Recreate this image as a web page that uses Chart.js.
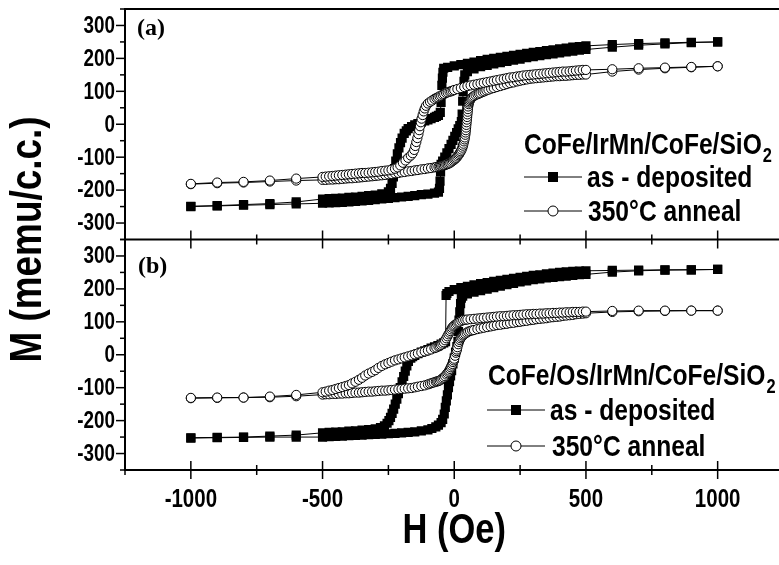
<!DOCTYPE html>
<html>
<head>
<meta charset="utf-8">
<script src="https://cdn.jsdelivr.net/npm/chart.js@4.4.0/dist/chart.umd.min.js"></script>
<style>
  html, body { margin: 0; padding: 0; overflow: hidden; background: #fff; }
  #wrap { position: relative; width: 790px; height: 565px; }
</style>
</head>
<body>
<div id="wrap"><canvas id="loopChart" width="790" height="565"></canvas></div>
<script>
// tick positions
const xMajor = [-1000, -500, 0, 500, 1000];
const xMinor = [-1250, -750, -250, 250, 750, 1250];
const yMajor = [-300, -200, -100, 0, 100, 200, 300];
const yMinor = [-350, -250, -150, -50, 50, 150, 250, 350];

// (a) CoFe/IrMn/CoFe/SiO2, as-deposited, [H (Oe), M (memu/c.c.)]
const aDepDown = [[-1000,-249],[-900,-247],[-800,-244],[-700,-241],[-600,-236],
  [-500,-227],[-475,-226],[-450,-225],[-425,-224],[-400,-222],[-375,-221],[-350,-219],[-325,-217],
  [-300,-215],[-275,-211],[-250,-205],[-242,-195],[-236,-180],[-231,-160],[-227,-135],[-222,-112],
  [-216,-90],[-210,-72],[-204,-56],[-198,-42],[-190,-28],[-182,-20],[-175,-13],[-162,-7],[-150,-2],
  [-138,2],[-125,6],[-112,10],[-100,13],[-88,17],[-75,21],[-68,24],[-60,27],[-53,36],[-50,66],
  [-47,118],[-45,140],[-43,158],[-40,170],[-25,173],[0,177],
  [25,181],[50,185],[75,189],[100,193],[125,197],[150,200],[175,203],[200,206],[225,209],[250,212],
  [275,215],[300,218],[325,221],[350,224],[375,226],[400,229],[425,231],[450,234],[475,236],[500,238],
  [600,242],[700,245],[800,247],[900,249],[1000,250]];
const aDepUp = [[-1000,-250],[-900,-248],[-800,-246],[-700,-244],[-600,-242],
  [-500,-240],[-475,-239],[-450,-238],[-425,-237],[-400,-236],[-375,-234],[-350,-233],[-325,-231],
  [-300,-229],[-275,-227],[-250,-225],[-225,-223],[-200,-221],[-175,-219],[-150,-217],[-125,-214],
  [-100,-212],[-75,-209],[-60,-206],[-56,-195],[-54,-173],[-52,-145],[-50,-122],[-44,-112],[-36,-100],
  [-28,-87],[-20,-74],[-12,-61],[-5,-49],[2,-37],[9,-25],[15,-14],[21,-4],[27,8],[30,31],[32,70],
  [34,100],[37,130],[40,150],[50,160],[75,168],[100,175],[125,179],[150,183],[175,187],[200,191],
  [225,195],[250,198],[275,202],[300,205],[325,208],[350,211],[375,214],[400,217],[425,220],[450,222],
  [475,225],[500,227],[600,234],[700,240],[800,244],[900,248],[1000,250]];
// (a) 350 C anneal
const aAnnDown = [[-1000,-181],[-900,-177],[-800,-175],[-700,-171],[-600,-165],
  [-500,-160],[-488,-159],[-475,-158],[-462,-157],[-450,-156],[-438,-155],[-425,-154],[-412,-153],
  [-400,-152],[-388,-151],[-375,-150],[-362,-149],[-350,-148],[-338,-148],[-325,-147],[-312,-146],
  [-300,-145],[-288,-144],[-275,-142],[-262,-141],[-250,-140],[-238,-138],[-225,-135],[-215,-131],
  [-205,-125],[-195,-117],[-185,-110],[-175,-102],[-165,-95],[-158,-88],[-152,-78],[-148,-66],
  [-144,-54],[-140,-42],[-136,-30],[-133,-18],[-130,-6],[-127,6],[-124,17],[-120,28],[-116,39],
  [-112,48],[-107,56],[-100,63],[-92,68],[-84,72],[-75,77],[-68,80],[-62,82],[-56,85],[-50,87],
  [-44,90],[-38,92],[-31,95],[-25,97],[-18,99],[-12,100],[-6,102],[0,104],[12,107],[25,110],
  [38,113],[50,116],[62,118],[75,120],[88,122],[100,124],[112,126],[125,128],[138,130],[150,132],
  [162,134],[175,136],[188,138],[200,140],[212,142],[225,143],[238,145],[250,146],[262,148],[275,149],
  [288,150],[300,151],[312,152],[325,153],[338,154],[350,155],[362,156],[375,157],[388,158],[400,159],
  [412,160],[425,160],[438,161],[450,162],[462,163],[475,164],[488,165],[500,165],
  [600,167],[700,170],[800,172],[900,174],[1000,176]];
const aAnnUp = [[-1000,-182],[-900,-179],[-800,-177],[-700,-174],[-600,-171],
  [-500,-169],[-488,-169],[-475,-168],[-462,-168],[-450,-167],[-438,-167],[-425,-166],[-412,-165],
  [-400,-164],[-388,-164],[-375,-163],[-362,-162],[-350,-161],[-338,-160],[-325,-159],[-312,-158],
  [-300,-157],[-288,-156],[-275,-155],[-262,-154],[-250,-152],[-238,-151],[-225,-149],[-212,-148],
  [-200,-146],[-188,-145],[-175,-143],[-162,-142],[-150,-140],[-138,-139],[-125,-137],[-112,-136],
  [-100,-134],[-88,-133],[-75,-131],[-68,-130],[-60,-129],[-55,-128],[-50,-127],[-45,-126],[-40,-125],
  [-35,-124],[-30,-122],[-25,-121],[-20,-119],[-15,-117],[-10,-114],[-5,-111],[0,-108],[4,-105],
  [8,-102],[12,-98],[16,-94],[19,-90],[22,-86],[25,-82],[28,-77],[31,-71],[33,-65],[35,-59],[37,-52],
  [39,-46],[40,-40],[42,-32],[43,-25],[44,-18],[45,-10],[46,-2],[47,6],[48,14],[49,22],[50,30],
  [51,38],[52,46],[53,54],[55,61],[56,66],[58,70],[60,74],[63,77],[66,80],[70,83],[75,86],[81,89],
  [88,91],[94,93],[100,95],[108,98],[115,100],[122,103],[130,105],[140,108],[150,110],[162,113],
  [175,116],[188,119],[200,122],[212,125],[225,127],[238,130],[250,132],[262,134],[275,136],[288,138],
  [300,139],[312,140],[325,141],[338,142],[350,143],[362,144],[375,145],[388,146],[400,146],[412,147],
  [425,147],[438,148],[450,149],[462,150],[475,150],[488,151],[500,151],
  [600,160],[700,166],[800,170],[900,173],[1000,176]];

// (b) CoFe/Os/IrMn/CoFe/SiO2, as-deposited
const bDepDown = [[-1000,-252],[-900,-251],[-800,-250],[-700,-247],[-600,-244],
  [-500,-237],[-475,-236],[-450,-235],[-425,-234],[-400,-232],[-375,-231],[-350,-229],[-325,-227],
  [-300,-225],[-280,-221],[-265,-216],[-255,-208],[-248,-200],[-242,-190],[-236,-178],[-230,-165],
  [-224,-150],[-218,-135],[-212,-118],[-205,-100],[-198,-82],[-192,-66],[-186,-50],[-180,-34],
  [-174,-20],[-165,-10],[-158,-6],[-150,-2],[-138,3],[-125,8],[-112,12],[-100,16],[-88,20],[-75,24],
  [-62,28],[-50,32],[-40,36],[-33,40],
  [-31,180],[-28,186],[-20,192],[0,198],[25,204],[50,208],[75,212],[100,216],[125,219],[150,223],
  [175,226],[200,229],[225,232],[250,235],[275,238],[300,241],[325,243],[350,246],[375,248],[400,250],
  [425,252],[450,253],[475,254],[500,255],[600,256],[700,257],[800,258],[900,258],[1000,259]];
const bDepUp = [[-1000,-253],[-900,-252],[-800,-251],[-700,-250],[-600,-250],
  [-500,-250],[-475,-249],[-450,-248],[-425,-247],[-400,-246],[-375,-245],[-350,-244],[-325,-243],
  [-300,-242],[-275,-241],[-250,-240],[-225,-239],[-200,-237],[-175,-236],[-150,-234],[-125,-231],
  [-100,-228],[-85,-224],[-70,-219],[-60,-214],[-50,-206],[-44,-196],[-38,-180],[-34,-160],[-30,-140],
  [-26,-122],[-22,-100],[-18,-82],[-14,-64],[-10,-48],[-5,-28],[0,-10],[5,8],[10,25],[14,40],
  [16,70],[18,105],[21,130],[24,155],[27,172],[32,178],[50,185],[75,190],[100,195],[125,199],
  [150,204],[175,208],[200,213],[225,217],[250,221],[275,224],[300,228],[325,230],[350,233],[375,235],
  [400,237],[425,239],[450,241],[475,243],[500,244],[600,251],[700,255],[800,257],[900,258],[1000,259]];
// (b) 350 C anneal
const bAnnDown = [[-1000,-131],[-900,-130],[-800,-130],[-700,-127],[-600,-122],
  [-500,-114],[-488,-112],[-475,-109],[-462,-107],[-450,-104],[-438,-101],[-425,-98],[-412,-95],
  [-400,-92],[-388,-87],[-375,-82],[-362,-76],[-350,-70],[-338,-63],[-325,-57],[-312,-52],[-300,-47],
  [-288,-40],[-275,-34],[-262,-29],[-250,-25],[-238,-21],[-225,-17],[-212,-14],[-200,-11],[-188,-8],
  [-175,-5],[-162,-2],[-150,1],[-138,4],[-125,7],[-112,10],[-100,13],[-88,16],[-75,20],[-68,22],
  [-60,25],[-55,27],[-50,30],[-45,34],[-40,38],[-35,44],[-30,50],[-26,56],[-22,62],[-18,67],[-15,72],
  [-11,77],[-8,82],[-4,86],[0,89],[5,92],[10,95],[15,98],[20,100],[27,103],[34,105],[42,106],[50,107],
  [62,108],[75,109],[88,110],[100,111],[112,112],[125,113],[138,114],[150,115],[162,116],[175,117],
  [188,117],[200,118],[212,119],[225,120],[238,120],[250,121],[262,122],[275,123],[288,123],[300,124],
  [312,124],[325,125],[338,125],[350,126],[362,126],[375,127],[388,127],[400,128],[412,128],[425,129],
  [438,129],[450,130],[462,130],[475,130],[488,131],[500,131],
  [600,133],[700,134],[800,134],[900,134],[1000,134]];
const bAnnUp = [[-1000,-132],[-900,-131],[-800,-130],[-700,-129],[-600,-126],
  [-500,-121],[-488,-120],[-475,-120],[-462,-119],[-450,-119],[-438,-118],[-425,-118],[-412,-117],
  [-400,-117],[-388,-116],[-375,-115],[-362,-115],[-350,-114],[-338,-113],[-325,-112],[-312,-112],
  [-300,-111],[-288,-110],[-275,-109],[-262,-109],[-250,-108],[-238,-107],[-225,-106],[-212,-105],
  [-200,-104],[-188,-103],[-175,-102],[-162,-101],[-150,-99],[-138,-97],[-125,-95],[-112,-93],
  [-100,-90],[-92,-88],[-85,-86],[-78,-84],[-70,-82],[-65,-81],[-60,-80],[-55,-78],[-50,-75],[-45,-72],
  [-40,-69],[-35,-65],[-30,-60],[-26,-56],[-22,-52],[-19,-48],[-16,-43],[-13,-38],[-10,-33],[-7,-28],
  [-5,-22],[-2,-17],[0,-12],[3,-3],[6,6],[8,11],[10,16],[12,23],[15,32],[18,39],[21,45],[24,50],
  [28,54],[32,58],[36,61],[41,64],[47,67],[53,70],[60,72],[68,74],[75,75],[88,78],[100,80],[112,82],
  [125,84],[138,86],[150,88],[162,90],[175,91],[188,93],[200,94],[212,96],[225,97],[238,99],[250,100],
  [262,102],[275,103],[288,105],[300,106],[312,108],[325,109],[338,110],[350,111],[362,113],[375,114],
  [388,115],[400,116],[412,118],[425,119],[438,120],[450,121],[462,123],[475,124],[488,125],[500,126],
  [600,130],[700,132],[800,133],[900,134],[1000,134]];

// the figure uses a condensed bold sans; Liberation Sans squeezed horizontally stands in for it
const sans = "'Liberation Sans', Arial, sans-serif";
const serif = "'Liberation Serif', 'Times New Roman', serif";
const squeeze = 0.82;

const toXY = arr => arr.map(([h, m]) => ({ x: h, y: m }));

function squares(data, axis) {
  return {
    data: toXY(data), yAxisID: axis,
    borderColor: '#000', borderWidth: 1, tension: 0,
    pointStyle: 'rect', pointRadius: 6.5, pointBackgroundColor: '#000',
    pointBorderColor: '#000', pointBorderWidth: 0
  };
}
function circles(data, axis) {
  return {
    data: toXY(data), yAxisID: axis,
    borderColor: '#000', borderWidth: 1, tension: 0,
    pointStyle: 'circle', pointRadius: 4.6, pointBackgroundColor: '#fff',
    pointBorderColor: '#000', pointBorderWidth: 1
  };
}

function yScale() {
  return {
    type: 'linear', position: 'left', stack: 'm', stackWeight: 1,
    min: -350, max: 350,
    afterFit: s => { s.width = 125; },
    grid: { display: false, drawTicks: false },
    border: { display: false },
    ticks: { display: false }
  };
}

function line(ctx, x1, y1, x2, y2) {
  ctx.beginPath(); ctx.moveTo(x1, y1); ctx.lineTo(x2, y2); ctx.stroke();
}

// draws condensed text, returns its drawn width
function text(ctx, str, x, y, size, align, baseline) {
  ctx.save();
  ctx.font = 'bold ' + size + 'px ' + sans;
  ctx.textAlign = align || 'left';
  ctx.textBaseline = baseline || 'alphabetic';
  ctx.translate(x, y);
  ctx.scale(squeeze, 1);
  ctx.fillText(str, 0, 0);
  const w = ctx.measureText(str).width * squeeze;
  ctx.restore();
  return w;
}

function legendRow(ctx, x, y, kind, label, textX) {
  ctx.lineWidth = 1;
  line(ctx, x, y, x + 58, y);
  const cx = x + 29;
  if (kind === 'rect') {
    ctx.fillStyle = '#000';
    ctx.fillRect(cx - 5, y - 5, 10, 10);
  } else {
    ctx.beginPath(); ctx.arc(cx, y, 5, 0, Math.PI * 2);
    ctx.fillStyle = '#fff'; ctx.fill(); ctx.stroke();
  }
  ctx.fillStyle = '#000';
  text(ctx, label, textX, y + 10, 30);
}

function legendTitle(ctx, x, y, label) {
  const w = text(ctx, label, x, y, 30);
  text(ctx, '2', x + w + 1, y + 8, 20);
}

const frame = {
  id: 'frame',
  afterDraw(chart) {
    const { ctx, chartArea: a, scales } = chart;
    const x = scales.x, yt = scales.yTop, yb = scales.yBot;
    const mid = yt.bottom;
    ctx.save();
    ctx.strokeStyle = '#000';
    ctx.fillStyle = '#000';
    ctx.lineWidth = 2;
    ctx.strokeRect(a.left, a.top, a.right - a.left, a.bottom - a.top);
    line(ctx, a.left, mid, a.right, mid);

    ctx.lineWidth = 1.5;
    for (const s of [yt, yb]) {
      yMajor.forEach(v => {
        const p = s.getPixelForValue(v);
        line(ctx, a.left - 9, p, a.left, p);
        text(ctx, String(v), a.left - 10, p + 1, 23, 'right', 'middle');
      });
      yMinor.forEach(v => { const p = s.getPixelForValue(v); line(ctx, a.left - 5, p, a.left, p); });
    }
    for (const yy of [mid, a.bottom]) {
      xMajor.forEach(v => { const p = x.getPixelForValue(v); line(ctx, p, yy - 9, p, yy + 9); });
      xMinor.forEach(v => { const p = x.getPixelForValue(v); line(ctx, p, yy - 5, p, yy + 5); });
    }
    xMajor.forEach(v => text(ctx, String(v), x.getPixelForValue(v), a.bottom + 30, 25, 'center', 'middle'));

    ctx.textBaseline = 'alphabetic';
    ctx.textAlign = 'left';
    ctx.font = 'bold 24px ' + serif;
    ctx.fillText('(a)', a.left + 12, yt.top + 26);
    ctx.fillText('(b)', a.left + 13, yb.top + 33);

    legendTitle(ctx, 524, 154, 'CoFe/IrMn/CoFe/SiO');
    legendRow(ctx, 524, 177, 'rect', 'as - deposited', 587);
    legendRow(ctx, 524, 211, 'circle', '350°C anneal', 588);

    legendTitle(ctx, 488, 385, 'CoFe/Os/IrMn/CoFe/SiO');
    legendRow(ctx, 487, 410, 'rect', 'as - deposited', 550);
    legendRow(ctx, 487, 446, 'circle', '350°C anneal', 552);

    text(ctx, 'H (Oe)', x.getPixelForValue(0), 543, 42, 'center');
    ctx.translate(41, (a.top + a.bottom) / 2);
    ctx.rotate(-Math.PI / 2);
    text(ctx, 'M (memu/c.c.)', 0, 0, 45, 'center');
    ctx.restore();
  }
};

new Chart(document.getElementById('loopChart'), {
  type: 'line',
  data: {
    datasets: [
      circles(aAnnDown, 'yTop'), circles(aAnnUp, 'yTop'),
      circles(bAnnDown, 'yBot'), circles(bAnnUp, 'yBot'),
      squares(aDepDown, 'yTop'), squares(aDepUp, 'yTop'),
      squares(bDepDown, 'yBot'), squares(bDepUp, 'yBot')
    ]
  },
  options: {
    responsive: false,
    animation: false,
    layout: { padding: { top: 9, right: 5, left: 0, bottom: 0 } },
    plugins: { legend: { display: false }, tooltip: { enabled: false } },
    scales: {
      x: {
        type: 'linear', position: 'bottom', min: -1250, max: 1250,
        afterFit: s => { s.height = 95; },
        grid: { display: false, drawTicks: false },
        border: { display: false },
        ticks: { display: false }
      },
      yBot: yScale(),
      yTop: yScale()
    }
  },
  plugins: [frame]
});
</script>
</body>
</html>
